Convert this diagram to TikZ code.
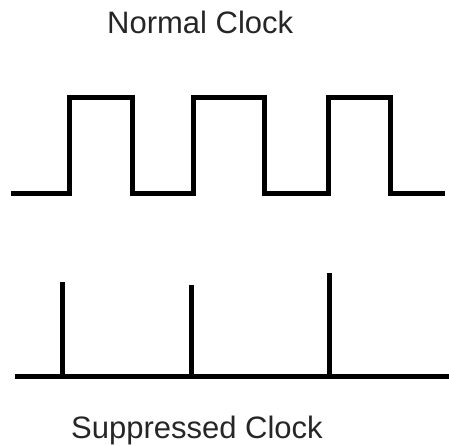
\documentclass[tikz,border=0pt]{standalone}
\usepackage{fontspec}
\setmainfont{Liberation Sans}
\begin{document}
\begin{tikzpicture}[x=1pt,y=-1pt,
  wave/.style={line width=5pt,line join=miter,line cap=butt},
  lbl/.style={font=\fontsize{31}{35}\selectfont,inner sep=0pt,anchor=base west,text=black!85}]
\useasboundingbox (0,0) rectangle (449,446);
\node[lbl] (top) at (107,34) {Normal Clock};
\node[lbl] (bot) at (71,438) {Suppressed Clock};
\draw[wave] (11,194) -- (69,194) -- (69,98) -- (132,98) -- (132,194) -- (193,194) -- (193,98) -- (264,98) -- (264,194) -- (328,194) -- (328,98) -- (390,98) -- (390,194) -- (445,194);
\coordinate (b0) at (15,376);
\coordinate (b1) at (449,376);
\draw[wave] (b0) -- (b1);
\coordinate (s1) at (62,282);
\coordinate (s2) at (191,285);
\coordinate (s3) at (329,273);
\draw[wave] (s1) -- (62,376);
\draw[wave] (s2) -- (191,376);
\draw[wave] (s3) -- (329,376);
\end{tikzpicture}
\end{document}
